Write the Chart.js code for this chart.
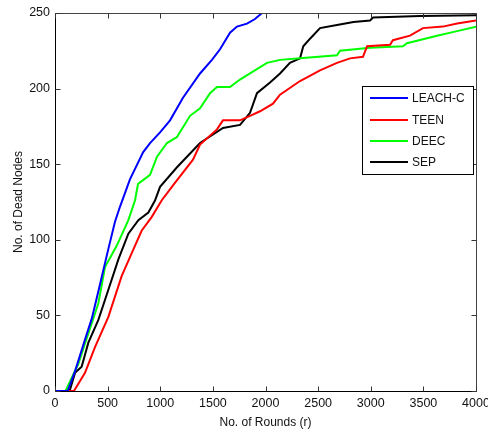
<!DOCTYPE html>
<html>
<head>
<meta charset="utf-8">
<script src="https://cdn.jsdelivr.net/npm/chart.js@4"></script>
<style>
html,body{margin:0;padding:0;background:#fff;}
#wrap{width:488px;height:434px;position:relative;}
</style>
</head>
<body>
<div id="wrap"><canvas id="c" width="488" height="434"></canvas></div>
<script>
// ---- data ----
const seriesNames = ["LEACH-C", "TEEN", "DEEC", "SEP"];
const seriesColors = ["#0000ff", "#ff0000", "#00ff00", "#000000"];

const leachRounds = [0,120,190,285,350,412,507,570,618,650,712,838,903,998,1093,1216,1378,1491,1568,1663,1729,1824,1900,1967];
const leachDead   = [0,0,13,34,48,66,94,112,122,128,140,158,164,171,179,194,210,219,226,237,241,243,246,250];

const teenRounds = [0,180,285,380,507,633,728,823,918,1013,1121,1311,1378,1539,1596,1758,1853,1948,2071,2138,2328,2518,2679,2803,2926,2965,3183,3211,3373,3496,3686,3820,4000];
const teenDead   = [0,0,12,29,49,76,91,106,115,126,136,153,163,173,179,179,182,185,190,196,205,212,217,220,221,228,229,232,235,240,241,243,245];

const deecRounds = [0,100,222,317,412,475,586,697,760,789,903,969,1064,1159,1283,1378,1473,1539,1663,1758,1853,2014,2138,2328,2679,2708,2993,3306,3344,3630,3820,4000];
const deecDead   = [0,0,18,38,58,82,96,113,126,137,143,155,164,168,182,187,197,201,201,206,210,217,219,220,222,225,227,228,230,235,238,241];

const sepRounds = [0,110,143,190,253,317,412,507,602,697,792,887,950,998,1159,1378,1596,1758,1853,1919,2043,2138,2232,2328,2359,2423,2518,2679,2836,2993,3022,3468,4000];
const sepDead   = [0,0,1,12,16,32,47,67,87,104,113,118,126,135,148,164,174,176,184,197,204,210,217,220,228,233,240,242,244,245,247,248,248.5];

const xTicks = [0,500,1000,1500,2000,2500,3000,3500,4000];
const yTicks = [0,50,100,150,200,250];
const xTitle = "No. of Rounds (r)";
const yTitle = "No. of Dead Nodes";

// ---- build chart ----
function pts(xs, ys){ return xs.map((x,i)=>({x:x, y:ys[i]})); }
const allX = [leachRounds, teenRounds, deecRounds, sepRounds];
const allY = [leachDead, teenDead, deecDead, sepDead];

const FONT = "'Liberation Sans', Arial, sans-serif";

const datasets = seriesNames.map((n,i)=>({
  label: n,
  data: pts(allX[i], allY[i]),
  borderColor: seriesColors[i],
  backgroundColor: seriesColors[i],
  borderWidth: 2,
  pointRadius: 0,
  tension: 0,
  fill: false
}));

const framePlugin = {
  id: 'frame',
  afterDraw(chart){
    const ctx = chart.ctx;
    const a = chart.chartArea;
    const xs = chart.scales.x, ys = chart.scales.y;
    const L = Math.round(a.left)+0.5, R = Math.round(a.right)+0.5;
    const T = Math.round(a.top)+0.5, B = Math.round(a.bottom)+0.5;
    ctx.save();
    ctx.lineWidth = 1;
    ctx.strokeStyle = '#444';
    ctx.beginPath();
    ctx.moveTo(L,T); ctx.lineTo(R,T); ctx.lineTo(R,B);
    ctx.stroke();
    ctx.strokeStyle = '#000';
    ctx.beginPath();
    ctx.moveTo(L,T); ctx.lineTo(L,B); ctx.lineTo(R,B);
    ctx.stroke();
    const tl = 5;
    ctx.beginPath();
    ctx.strokeStyle = '#333';
    xs.ticks.forEach(t=>{
      const p = Math.round(xs.getPixelForValue(t.value))+0.5;
      ctx.moveTo(p,B); ctx.lineTo(p,B-tl);
      ctx.moveTo(p,T); ctx.lineTo(p,T+tl);
    });
    ys.ticks.forEach(t=>{
      const p = Math.round(ys.getPixelForValue(t.value))+0.5;
      ctx.moveTo(L,p); ctx.lineTo(L+tl,p);
      ctx.moveTo(R,p); ctx.lineTo(R-tl,p);
    });
    ctx.stroke();

    // legend
    const bx = 362.5, by = 86.5, bw = 111, bh = 88;
    ctx.fillStyle = '#fff';
    ctx.fillRect(bx, by, bw, bh);
    ctx.strokeStyle = '#000';
    ctx.strokeRect(bx, by, bw, bh);
    ctx.font = '12px ' + FONT;
    ctx.textBaseline = 'middle';
    ctx.textAlign = 'left';
    const rows = [98, 120, 141, 162];
    chart.data.datasets.forEach((d,i)=>{
      const y = rows[i];
      ctx.strokeStyle = d.borderColor;
      ctx.lineWidth = 2;
      ctx.beginPath();
      ctx.moveTo(370, y); ctx.lineTo(408, y);
      ctx.stroke();
      ctx.fillStyle = '#111';
      ctx.fillText(d.label, 412, y+0.5);
    });
    ctx.restore();
  }
};

new Chart(document.getElementById('c'), {
  type: 'line',
  data: { datasets },
  options: {
    responsive: false,
    animation: false,
    devicePixelRatio: 1,
    layout: { padding: { left: 0, top: 13, right: 12, bottom: 0 } },
    plugins: { legend: { display: false }, tooltip: { enabled: false } },
    scales: {
      x: {
        type: 'linear',
        min: 0, max: 4000,
        afterBuildTicks(s){ s.ticks = xTicks.map(v=>({value:v})); },
        afterFit(s){ s.height = 43; s.paddingLeft = 0; s.paddingRight = 0; },
        ticks: { padding: 5, color: '#111', font: { family: FONT, size: 12.5 }, maxRotation: 0, autoSkip: false,
                 callback: (v)=>String(v) },
        grid: { display: false, drawTicks: false },
        border: { display: false },
        title: { display: true, text: xTitle, color: '#111', font: { family: FONT, size: 12 }, padding: { top: 4, bottom: 4 } }
      },
      y: {
        type: 'linear',
        min: 0, max: 250,
        afterBuildTicks(s){ s.ticks = yTicks.map(v=>({value:v})); },
        afterFit(s){ s.width = 55; },
        ticks: { padding: 5, color: '#111', font: { family: FONT, size: 12.5 }, autoSkip: false,
                 callback: (v)=>String(v) },
        grid: { display: false, drawTicks: false },
        border: { display: false },
        title: { display: true, text: yTitle, color: '#111', font: { family: FONT, size: 12 }, padding: { top: 11, bottom: 0 } }
      }
    }
  },
  plugins: [framePlugin]
});
</script>
</body>
</html>
